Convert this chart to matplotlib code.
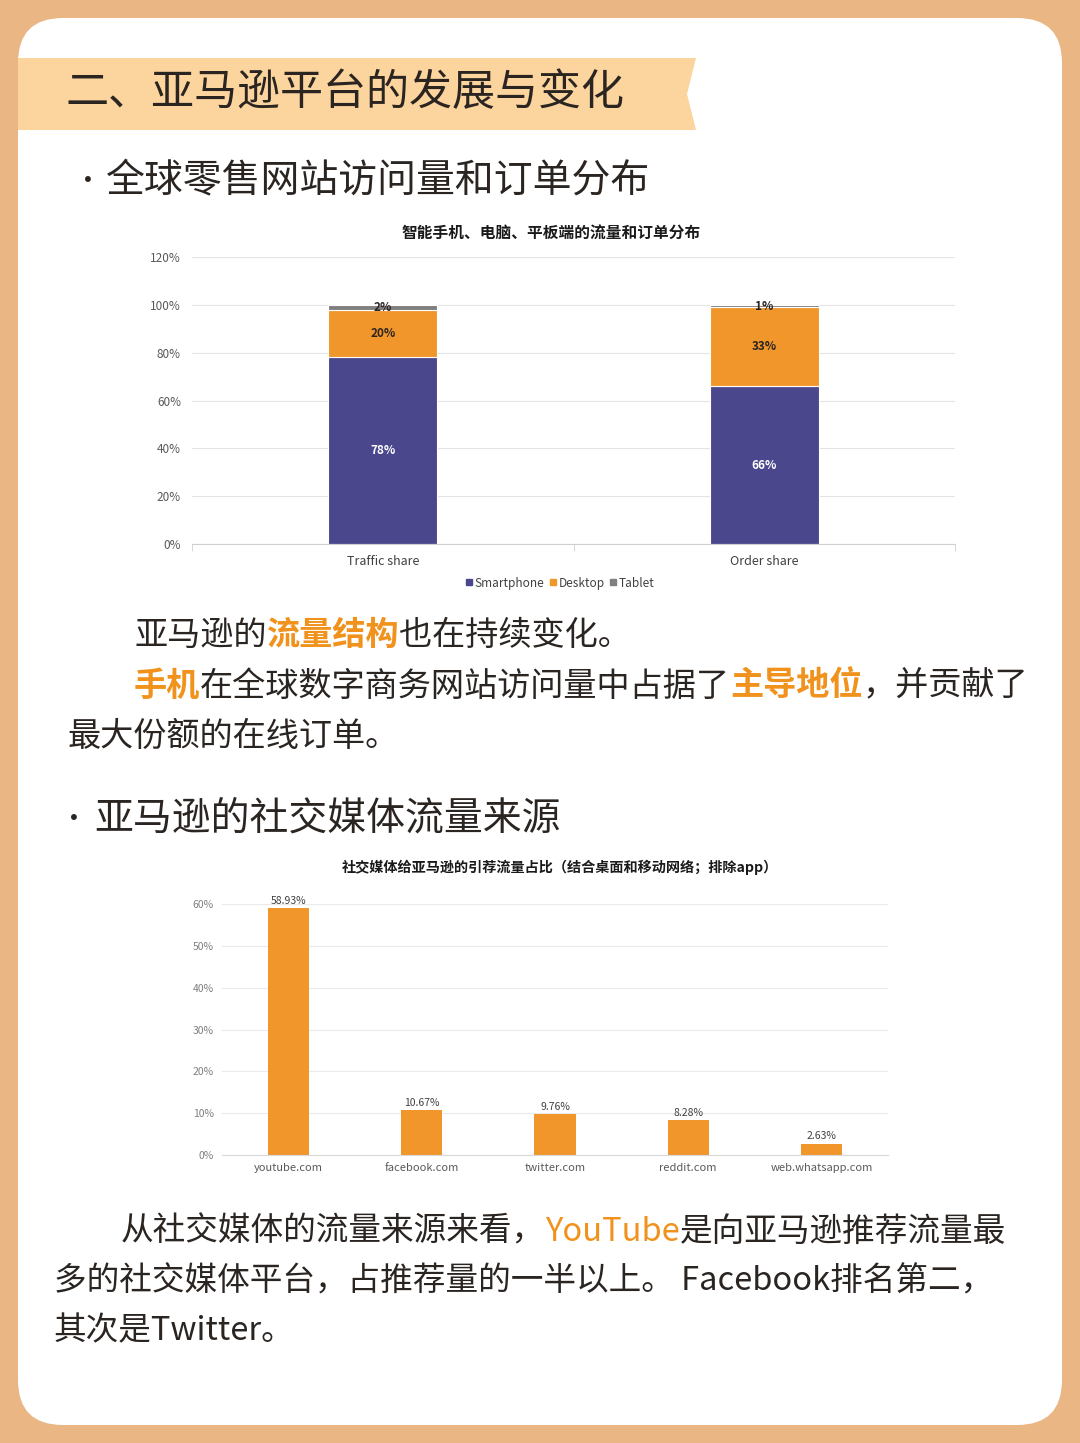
import matplotlib
matplotlib.use('Agg')
import matplotlib.pyplot as plt
from matplotlib.patches import FancyBboxPatch, Polygon
from matplotlib.lines import Line2D
import numpy as np

plt.rcParams['font.family'] = ['Noto Sans CJK SC', 'DejaVu Sans']

# 图1：设备流量和订单分布 (%)
share_groups = ['Traffic share', 'Order share']
devices = ['Smartphone', 'Desktop', 'Tablet']
smartphone = [78, 66]
desktop = [20, 33]
tablet = [2, 1]

# 图2：社交媒体引荐流量占比 (%)
sites = ['youtube.com', 'facebook.com', 'twitter.com', 'reddit.com', 'web.whatsapp.com']
referral = [58.93, 10.67, 9.76, 8.28, 2.63]

heading = '二、亚马逊平台的发展与变化'
bullet1 = '全球零售网站访问量和订单分布'
bullet2 = '亚马逊的社交媒体流量来源'
chart1_title = '智能手机、电脑、平板端的流量和订单分布'
chart2_title = '社交媒体给亚马逊的引荐流量占比（结合桌面和移动网络；排除app）'

DARK = '#2B2522'
ORANGE = '#F0921C'
BAR_ORANGE = '#F0962A'
PURPLE = '#4B478D'
GRAY = '#7F7F7F'

fig = plt.figure(figsize=(10.8, 14.43), dpi=100, facecolor='#E9B684')

# 背景层，坐标即像素
bg = fig.add_axes([0, 0, 1, 1])
bg.set_xlim(0, 1080)
bg.set_ylim(1443, 0)
bg.axis('off')
bg.add_patch(FancyBboxPatch((18, 18), 1044, 1407,
                            boxstyle='round,pad=0,rounding_size=45',
                            fc='white', ec='none'))
bg.add_patch(Polygon([(18, 58), (696, 58), (687, 94), (696, 130), (18, 130)],
                     closed=True, fc='#FCD49D', ec='none'))

bg.text(66, 93, heading, fontsize=31, color=DARK, va='center', ha='left')
bg.text(88, 182, '•', fontsize=20, color=DARK, va='center', ha='center')
bg.text(106, 180, bullet1, fontsize=28, color=DARK, va='center', ha='left')
bg.text(74, 820, '•', fontsize=20, color=DARK, va='center', ha='center')
bg.text(94, 818, bullet2, fontsize=28, color=DARK, va='center', ha='left')

renderer = fig.canvas.get_renderer()


def rich(x, y, segs, size=23.9):
    # 逐段绘制，不同颜色的文字接在一起
    for s, color, weight in segs:
        t = bg.text(x, y, s, fontsize=size, color=color, fontweight=weight,
                    va='center', ha='left')
        x += t.get_window_extent(renderer).width


rich(134, 635, [('亚马逊的', DARK, 'normal'), ('流量结构', ORANGE, 'bold'),
                ('也在持续变化。', DARK, 'normal')])
rich(134, 686, [('手机', ORANGE, 'bold'), ('在全球数字商务网站访问量中占据了', DARK, 'normal'),
                ('主导地位', ORANGE, 'bold'), ('，并贡献了', DARK, 'normal')])
rich(67, 736, [('最大份额的在线订单。', DARK, 'normal')])

rich(121, 1232, [('从社交媒体的流量来源来看，', DARK, 'normal'), ('YouTube', ORANGE, 'medium'),
                 ('是向亚马逊推荐流量最', DARK, 'normal')], size=23.5)
rich(54, 1282, [('多的社交媒体平台，占推荐量的一半以上。 Facebook排名第二，', DARK, 'normal')],
     size=23.5)
rich(54, 1331, [('其次是Twitter。', DARK, 'normal')], size=23.5)

# ---- 图1 ----
ax1 = fig.add_axes([192 / 1080, 1 - 544 / 1443, 763 / 1080, 287 / 1443])
x = np.arange(len(share_groups))
w = 0.286
bottom = np.zeros(len(share_groups))
series = [smartphone, desktop, tablet]
colors = [PURPLE, BAR_ORANGE, GRAY]
label_colors = ['white', DARK, DARK]
for vals, c, lc in zip(series, colors, label_colors):
    vals = np.array(vals, dtype=float)
    ax1.bar(x, vals, w, bottom=bottom, color=c, edgecolor='white', linewidth=0.8, zorder=2)
    for xi, v, b in zip(x, vals, bottom):
        ax1.text(xi, b + v / 2, f'{int(v)}%', ha='center', va='center',
                 fontsize=8.5, fontweight='bold', color=lc, zorder=3)
    bottom += vals

ax1.set_xlim(-0.5, 1.5)
ax1.set_ylim(0, 120)
ax1.set_yticks(range(0, 121, 20))
ax1.set_yticklabels([f'{v}%' for v in range(0, 121, 20)])
ax1.set_xticks(x)
ax1.set_xticklabels(share_groups)
ax1.set_xticks([-0.5, 0.5, 1.5], minor=True)
ax1.tick_params(axis='x', which='major', length=0, pad=8, labelsize=9, labelcolor='#404040')
ax1.tick_params(axis='x', which='minor', length=5, color='#D0D0D0')
ax1.tick_params(axis='y', length=0, pad=8, labelsize=8.5, labelcolor='#595959')
ax1.grid(axis='y', color='#E4E4E4', linewidth=0.8)
ax1.set_axisbelow(True)
for sp in ['top', 'right', 'left']:
    ax1.spines[sp].set_visible(False)
ax1.spines['bottom'].set_color('#D0D0D0')
ax1.set_facecolor('none')

fig.text(551 / 1080, 1 - 233 / 1443, chart1_title, ha='center', va='center',
         fontsize=11.3, fontweight='bold', color='#1A1A1A')
handles = [Line2D([], [], marker='s', linestyle='none', markersize=5,
                  markerfacecolor=c, markeredgecolor=c) for c in colors]
fig.legend(handles, devices, loc='center', bbox_to_anchor=(560 / 1080, 1 - 583 / 1443),
           ncol=3, frameon=False, fontsize=8.5, handlelength=0.6, handletextpad=0.2,
           columnspacing=0.4, labelcolor='#404040')

# ---- 图2 ----
ax2 = fig.add_axes([222 / 1080, 1 - 1155 / 1443, 666 / 1080, 251 / 1443])
x2 = np.arange(len(sites))
ax2.bar(x2, referral, 0.31, color=BAR_ORANGE, zorder=2)
for xi, v in zip(x2, referral):
    ax2.text(xi, v + 0.6, f'{v:.2f}%', ha='center', va='bottom', fontsize=7.5,
             color='#404040', clip_on=False)
ax2.set_xlim(-0.5, 4.5)
ax2.set_ylim(0, 60)
ax2.set_yticks(range(0, 61, 10))
ax2.set_yticklabels([f'{v}%' for v in range(0, 61, 10)])
ax2.set_xticks(x2)
ax2.set_xticklabels(sites)
ax2.tick_params(axis='x', length=0, pad=6, labelsize=8, labelcolor='#595959')
ax2.tick_params(axis='y', length=0, pad=6, labelsize=7.5, labelcolor='#7F7F7F')
ax2.grid(axis='y', color='#EAEAEA', linewidth=0.8)
ax2.set_axisbelow(True)
for sp in ['top', 'right', 'left']:
    ax2.spines[sp].set_visible(False)
ax2.spines['bottom'].set_color('#D9D9D9')
ax2.set_facecolor('none')

fig.text(560 / 1080, 1 - 867 / 1443, chart2_title, ha='center', va='center',
         fontsize=10.2, fontweight='bold', color='#1A1A1A')

fig.savefig('out.png', dpi=100, facecolor=fig.get_facecolor())
